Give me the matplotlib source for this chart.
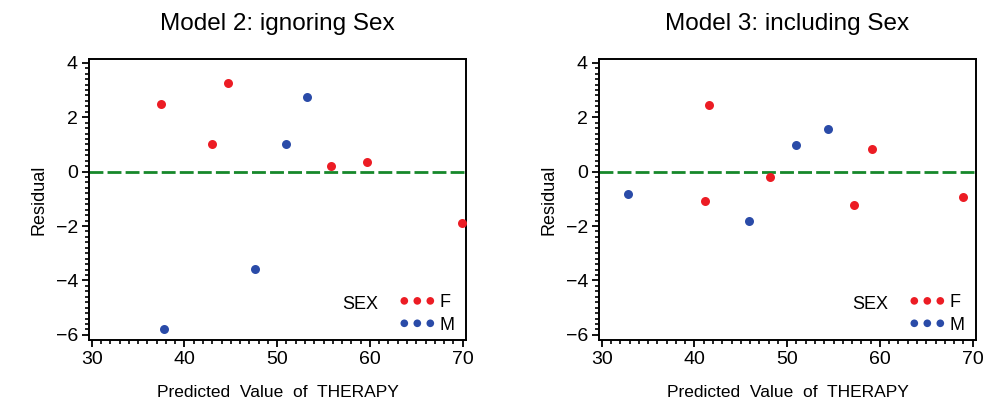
import matplotlib.pyplot as plt
from matplotlib.ticker import MultipleLocator

plt.rcParams['font.family'] = ['Liberation Sans', 'DejaVu Sans']

# Model 2: residuals vs predicted, ignoring sex
m2_f_pred = [37.5, 42.97, 44.73, 55.8, 59.68, 69.9]
m2_f_resid = [2.47, 1.03, 3.25, 0.21, 0.34, -1.9]
m2_m_pred = [37.83, 47.64, 50.98, 53.25]
m2_m_resid = [-5.79, -3.59, 1.02, 2.76]

# Model 3: residuals vs predicted, including sex
m3_f_pred = [41.57, 41.1, 48.2, 57.24, 59.14, 68.92]
m3_f_resid = [2.46, -1.08, -0.18, -1.21, 0.83, -0.93]
m3_m_pred = [32.84, 45.85, 50.98, 54.43]
m3_m_resid = [-0.83, -1.83, 0.99, 1.55]

titles = ['Model 2: ignoring Sex', 'Model 3: including Sex']
x_ticks = [30, 40, 50, 60, 70]
y_ticks = [-6, -4, -2, 0, 2, 4]

RED = '#ec1c24'
BLUE = '#2a4ba8'
GREEN = '#16882a'

fig = plt.figure(figsize=(9.95, 4.05), dpi=100)
W, H = 995, 405
boxes = [(89, 59, 466, 340), (599, 59, 976, 340)]
panels = [
    (m2_f_pred, m2_f_resid, m2_m_pred, m2_m_resid),
    (m3_f_pred, m3_f_resid, m3_m_pred, m3_m_resid),
]

for (l, t, r, b), title, (fx, fy, mx, my) in zip(boxes, titles, panels):
    ax = fig.add_axes([l / W, 1 - b / H, (r - l) / W, (b - t) / H])
    ax.axhline(0, color=GREEN, lw=2, ls=(0, (5, 1.5)), zorder=1)
    ax.scatter(fx, fy, s=42, color=RED, label='F', zorder=3, linewidths=0)
    ax.scatter(mx, my, s=42, color=BLUE, label='M', zorder=3, linewidths=0)

    ax.set_xlim(29.71, 70.36)
    ax.set_ylim(-6.19, 4.14)
    ax.set_xticks(x_ticks)
    ax.set_yticks(y_ticks)
    ax.set_yticklabels([f'{v}'.replace('-', '\u2212') for v in y_ticks])
    ax.xaxis.set_minor_locator(MultipleLocator(1))
    ax.yaxis.set_minor_locator(MultipleLocator(0.2))
    ax.tick_params(which='major', direction='out', length=5, width=1.3,
                   labelsize=14, pad=3)
    ax.tick_params(which='minor', direction='out', length=3, width=1.2)
    for sp in ax.spines.values():
        sp.set_linewidth(1.4)

    ax.set_xlabel('Predicted  Value  of  THERAPY', fontsize=12.5, labelpad=12)
    ax.set_ylabel('Residual', fontsize=13, labelpad=6)
    ax.set_title(title, fontsize=17.5, pad=21)

    # legend: three dots per group, group title "SEX" to the left
    ax.legend(scatterpoints=3, scatteryoffsets=[0.5], frameon=False,
              loc='upper left', bbox_to_anchor=(0.822, 0.163), fontsize=13,
              handletextpad=0.2, labelspacing=0.3, borderpad=0,
              borderaxespad=0, handlelength=2.04, markerscale=0.85)
    ax.text(0.671, 0.125, 'SEX', transform=ax.transAxes, fontsize=13,
            family=['Liberation Sans Narrow', 'Liberation Sans'],
            ha='left', va='center')

fig.savefig('out.png', dpi=100)
